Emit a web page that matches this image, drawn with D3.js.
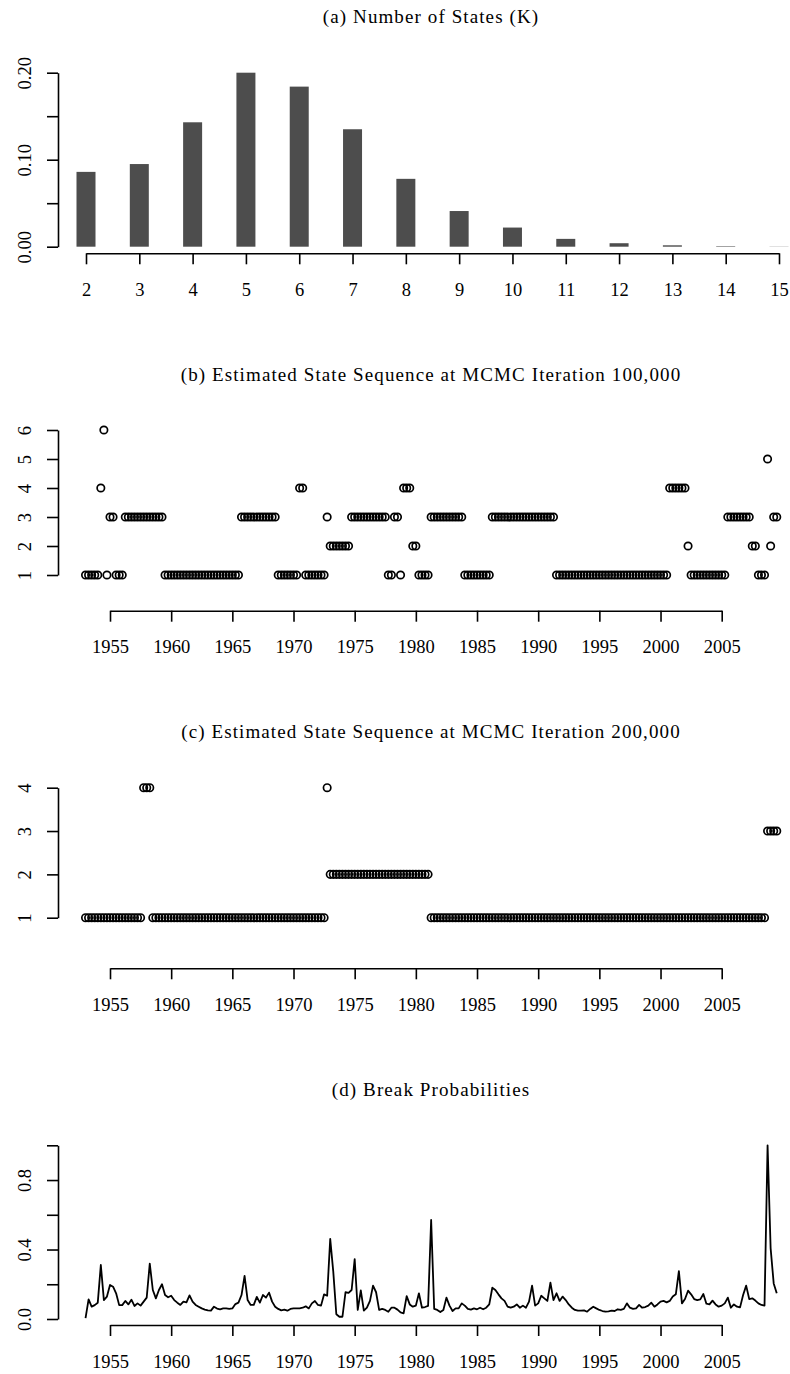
<!DOCTYPE html>
<html lang="en">
<head>
<meta charset="UTF-8">
<title>Number of states and break probabilities</title>
<script src="https://cdn.jsdelivr.net/npm/d3@7"></script>
<style>
  body { margin: 0; background: #fff; }
  svg text { font-family: 'Liberation Serif', 'Times New Roman', serif; fill: #000; }
  .title { font-size: 19px; letter-spacing: 1.1px; }
  .tick text { font-size: 18.5px; }
</style>
</head>
<body>
<svg id="chart" width="790" height="1374"></svg>
<script>
// (a) posterior probability of number of states
const kValues = [2, 3, 4, 5, 6, 7, 8, 9, 10, 11, 12, 13, 14, 15]
const kProb = [0.086, 0.095, 0.143, 0.200, 0.184, 0.135, 0.078, 0.041, 0.022, 0.009, 0.004, 0.0016, 0.0006, 0.0002]
const kYTicks = [0, 0.05, 0.10, 0.15, 0.20]
const kYLabels = [0, 0.10, 0.20]

// quarterly series, first obs 1953 Q1
const startYear = 1953
const freq = 4
const yearTicks = [1955, 1960, 1965, 1970, 1975, 1980, 1985, 1990, 1995, 2000, 2005]

// (b) state sequence at iteration 100,000
const state100k = [
  1, 1, 1, 1, 1, 4, 6, 1, 3, 3, 1, 1, 1, 3, 3, 3, 3, 3, 3, 3,
  3, 3, 3, 3, 3, 3, 1, 1, 1, 1, 1, 1, 1, 1, 1, 1, 1, 1, 1, 1,
  1, 1, 1, 1, 1, 1, 1, 1, 1, 1, 1, 3, 3, 3, 3, 3, 3, 3, 3, 3,
  3, 3, 3, 1, 1, 1, 1, 1, 1, 1, 4, 4, 1, 1, 1, 1, 1, 1, 1, 3,
  2, 2, 2, 2, 2, 2, 2, 3, 3, 3, 3, 3, 3, 3, 3, 3, 3, 3, 3, 1,
  1, 3, 3, 1, 4, 4, 4, 2, 2, 1, 1, 1, 1, 3, 3, 3, 3, 3, 3, 3,
  3, 3, 3, 3, 1, 1, 1, 1, 1, 1, 1, 1, 1, 3, 3, 3, 3, 3, 3, 3,
  3, 3, 3, 3, 3, 3, 3, 3, 3, 3, 3, 3, 3, 3, 1, 1, 1, 1, 1, 1,
  1, 1, 1, 1, 1, 1, 1, 1, 1, 1, 1, 1, 1, 1, 1, 1, 1, 1, 1, 1,
  1, 1, 1, 1, 1, 1, 1, 1, 1, 1, 1, 4, 4, 4, 4, 4, 4, 2, 1, 1,
  1, 1, 1, 1, 1, 1, 1, 1, 1, 1, 3, 3, 3, 3, 3, 3, 3, 3, 2, 2,
  1, 1, 1, 5, 2, 3, 3
]

// (c) state sequence at iteration 200,000
const state200k = [
  1, 1, 1, 1, 1, 1, 1, 1, 1, 1, 1, 1, 1, 1, 1, 1, 1, 1, 1, 4,
  4, 4, 1, 1, 1, 1, 1, 1, 1, 1, 1, 1, 1, 1, 1, 1, 1, 1, 1, 1,
  1, 1, 1, 1, 1, 1, 1, 1, 1, 1, 1, 1, 1, 1, 1, 1, 1, 1, 1, 1,
  1, 1, 1, 1, 1, 1, 1, 1, 1, 1, 1, 1, 1, 1, 1, 1, 1, 1, 1, 4,
  2, 2, 2, 2, 2, 2, 2, 2, 2, 2, 2, 2, 2, 2, 2, 2, 2, 2, 2, 2,
  2, 2, 2, 2, 2, 2, 2, 2, 2, 2, 2, 2, 2, 1, 1, 1, 1, 1, 1, 1,
  1, 1, 1, 1, 1, 1, 1, 1, 1, 1, 1, 1, 1, 1, 1, 1, 1, 1, 1, 1,
  1, 1, 1, 1, 1, 1, 1, 1, 1, 1, 1, 1, 1, 1, 1, 1, 1, 1, 1, 1,
  1, 1, 1, 1, 1, 1, 1, 1, 1, 1, 1, 1, 1, 1, 1, 1, 1, 1, 1, 1,
  1, 1, 1, 1, 1, 1, 1, 1, 1, 1, 1, 1, 1, 1, 1, 1, 1, 1, 1, 1,
  1, 1, 1, 1, 1, 1, 1, 1, 1, 1, 1, 1, 1, 1, 1, 1, 1, 1, 1, 1,
  1, 1, 1, 3, 3, 3, 3
]

// (d) break probabilities
const breakProb = [
  0.005, 0.113, 0.071, 0.080, 0.094, 0.311, 0.109, 0.129, 0.196, 0.186,
  0.148, 0.080, 0.080, 0.104, 0.084, 0.111, 0.075, 0.090, 0.077, 0.100,
  0.123, 0.319, 0.167, 0.119, 0.167, 0.200, 0.138, 0.125, 0.134, 0.109,
  0.094, 0.081, 0.100, 0.096, 0.136, 0.100, 0.081, 0.071, 0.061, 0.054,
  0.050, 0.048, 0.071, 0.060, 0.056, 0.061, 0.061, 0.058, 0.061, 0.086,
  0.094, 0.138, 0.248, 0.109, 0.081, 0.081, 0.127, 0.094, 0.138, 0.123,
  0.152, 0.100, 0.071, 0.058, 0.050, 0.054, 0.048, 0.058, 0.061, 0.061,
  0.061, 0.065, 0.073, 0.061, 0.090, 0.104, 0.081, 0.077, 0.142, 0.134,
  0.461, 0.273, 0.027, 0.013, 0.013, 0.154, 0.150, 0.167, 0.345, 0.052,
  0.165, 0.048, 0.065, 0.104, 0.192, 0.154, 0.052, 0.058, 0.052, 0.042,
  0.065, 0.065, 0.054, 0.038, 0.033, 0.132, 0.084, 0.071, 0.077, 0.148,
  0.065, 0.069, 0.075, 0.570, 0.058, 0.052, 0.040, 0.052, 0.123, 0.077,
  0.046, 0.061, 0.061, 0.090, 0.077, 0.058, 0.054, 0.061, 0.056, 0.065,
  0.056, 0.065, 0.084, 0.180, 0.167, 0.142, 0.119, 0.104, 0.071, 0.065,
  0.071, 0.084, 0.065, 0.077, 0.065, 0.100, 0.192, 0.077, 0.090, 0.134,
  0.119, 0.104, 0.209, 0.109, 0.148, 0.104, 0.129, 0.109, 0.084, 0.065,
  0.052, 0.048, 0.048, 0.050, 0.042, 0.058, 0.071, 0.061, 0.052, 0.046,
  0.042, 0.044, 0.048, 0.046, 0.056, 0.052, 0.058, 0.090, 0.065, 0.058,
  0.061, 0.081, 0.065, 0.069, 0.077, 0.094, 0.071, 0.084, 0.100, 0.104,
  0.096, 0.104, 0.129, 0.142, 0.276, 0.090, 0.115, 0.163, 0.142, 0.115,
  0.109, 0.113, 0.144, 0.088, 0.084, 0.106, 0.084, 0.071, 0.077, 0.090,
  0.123, 0.065, 0.084, 0.071, 0.067, 0.138, 0.192, 0.115, 0.119, 0.106,
  0.090, 0.081, 0.077, 1.000, 0.407, 0.205, 0.148
]
const probTicks = [0, 0.2, 0.4, 0.6, 0.8, 1.0]
const probLabels = [0, 0.4, 0.8]

const svg = d3.select('#chart')
const axisX = 58
const centerX = 431
const time = (d, i) => startYear + i / freq

// shared time axis scale (1955 .. 2005 tick span)
const x = d3.scaleLinear().domain([1955, 2005]).range([110, 721.7])

function styleAxis(g) {
  g.attr('font-size', null).attr('font-family', null)
  g.select('.domain').attr('stroke', '#000').attr('stroke-width', 1.6)
  g.selectAll('.tick line').attr('stroke', '#000').attr('stroke-width', 1.6)
}

function xAxis(scale, values, yLine, yText) {
  const g = svg.append('g')
    .attr('transform', `translate(0,${yLine})`)
    .call(d3.axisBottom(scale).tickValues(values).tickSize(11).tickSizeOuter(0).tickFormat(d => d))
  styleAxis(g)
  g.selectAll('.tick text').attr('y', yText - yLine).attr('dy', null)
}

function yAxis(scale, values, labelled, fmt) {
  const g = svg.append('g')
    .attr('transform', `translate(${axisX},0)`)
    .call(d3.axisLeft(scale).tickValues(values).tickSize(11).tickSizeOuter(0)
      .tickFormat(d => labelled.some(v => Math.abs(v - d) < 1e-9) ? fmt(d) : ''))
  styleAxis(g)
  g.selectAll('.tick text')
    .attr('transform', 'rotate(-90)')
    .attr('x', 0).attr('y', -27).attr('dy', null)
    .attr('text-anchor', 'middle')
}

function title(txt, y) {
  svg.append('text').attr('class', 'title')
    .attr('x', centerX).attr('y', y)
    .attr('text-anchor', 'middle')
    .text(txt)
}

// ---- (a) bars
title('(a) Number of States (K)', 23)
const xa = d3.scalePoint().domain(kValues).range([86, 779])
const ya = d3.scaleLinear().domain([0, 0.2]).range([246.7, 72.7])
svg.append('g').selectAll('rect')
  .data(kProb)
  .enter()
  .append('rect')
  .attr('x', (d, i) => xa(kValues[i]) - 9.5)
  .attr('width', 19)
  .attr('y', d => ya(d))
  .attr('height', d => ya(0) - ya(d))
  .style('fill', '#4d4d4d')
xAxis(xa, kValues, 253.3, 296)
yAxis(ya, kYTicks, kYLabels, d3.format('.2f'))

// ---- (b) / (c) state sequences
function statePanel(states, ticks, yTop, yBottom, axisY, labelY) {
  const ys = d3.scaleLinear().domain([1, ticks[ticks.length - 1]]).range([yBottom, yTop])
  svg.append('g').selectAll('circle')
    .data(states)
    .enter()
    .append('circle')
    .attr('cx', (d, i) => x(time(d, i)))
    .attr('cy', d => ys(d))
    .attr('r', 3.7)
    .style('fill', 'none')
    .style('stroke', '#000')
    .style('stroke-width', 1.7)
  xAxis(x, yearTicks, axisY, labelY)
  yAxis(ys, ticks, ticks, d3.format('d'))
}

title('(b) Estimated State Sequence at MCMC Iteration 100,000', 381)
statePanel(state100k, [1, 2, 3, 4, 5, 6], 430, 575, 610.7, 653)

title('(c) Estimated State Sequence at MCMC Iteration 200,000', 738)
statePanel(state200k, [1, 2, 3, 4], 787.7, 917.7, 968.3, 1011)

// ---- (d) break probabilities
title('(d) Break Probabilities', 1096)
const yd = d3.scaleLinear().domain([0, 1]).range([1319, 1145.3])
const line = d3.line()
  .x((d, i) => x(time(d, i)))
  .y(d => yd(d))
svg.append('path')
  .datum(breakProb)
  .attr('d', line)
  .style('fill', 'none')
  .style('stroke', '#000')
  .style('stroke-width', 1.8)
  .style('stroke-linejoin', 'round')
xAxis(x, yearTicks, 1325, 1368)
yAxis(yd, probTicks, probLabels, d3.format('.1f'))
</script>
</body>
</html>
